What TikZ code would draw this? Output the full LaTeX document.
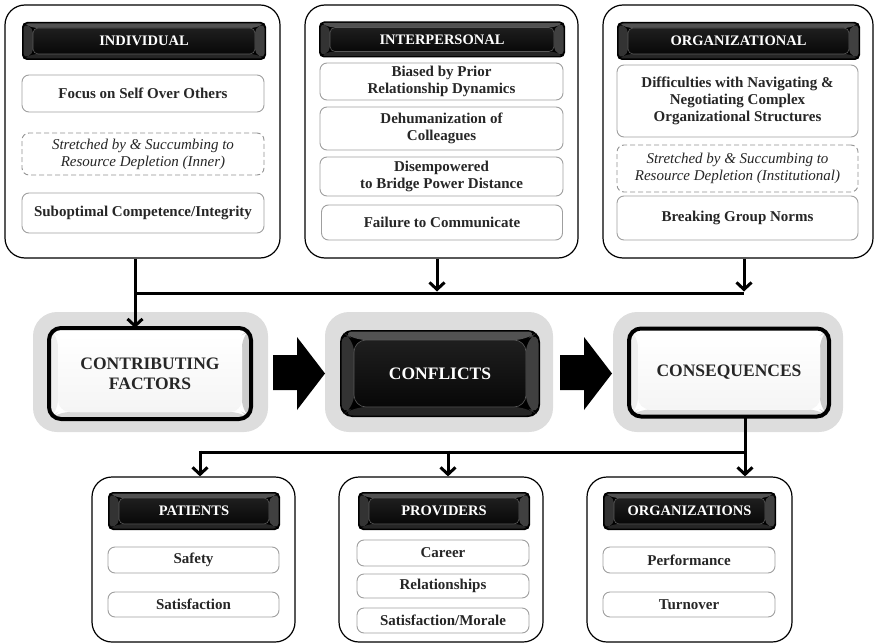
\documentclass[tikz,border=0pt]{standalone}
\usepackage{fontspec}
\setmainfont{Liberation Serif}
\usetikzlibrary{arrows.meta}
\begin{document}
\tikzset{
  outerbox/.style={draw=black, line width=1.2pt, rounded corners=20pt, fill=white},
  itembox/.style={draw=gray!75, line width=0.9pt, rounded corners=7pt, fill=white,
    font=\fontsize{15}{17}\selectfont\bfseries, align=center, text=black!85, inner sep=0pt},
  ditembox/.style={itembox, draw=gray!85, dash pattern=on 5pt off 3pt,
    font=\fontsize{15}{17}\selectfont\itshape},
  darkbevel/.style 2 args={path picture={
    \fill[black!68] ([shift={(1.5pt,-1.5pt)}]path picture bounding box.north west) -- ([shift={(-1.5pt,-1.5pt)}]path picture bounding box.north east) -- ([shift={(-#1,-#2)}]path picture bounding box.north east) -- ([shift={(#1,-#2)}]path picture bounding box.north west) -- cycle;
    \fill[black!85] ([shift={(1.5pt,1.5pt)}]path picture bounding box.south west) -- ([shift={(-1.5pt,1.5pt)}]path picture bounding box.south east) -- ([shift={(-#1,#2)}]path picture bounding box.south east) -- ([shift={(#1,#2)}]path picture bounding box.south west) -- cycle;
    \fill[black!80] ([shift={(1.5pt,-1.5pt)}]path picture bounding box.north west) -- ([shift={(#1,-#2)}]path picture bounding box.north west) -- ([shift={(#1,#2)}]path picture bounding box.south west) -- ([shift={(1.5pt,1.5pt)}]path picture bounding box.south west) -- cycle;
    \fill[black!75] ([shift={(-1.5pt,-1.5pt)}]path picture bounding box.north east) -- ([shift={(-#1,-#2)}]path picture bounding box.north east) -- ([shift={(-#1,#2)}]path picture bounding box.south east) -- ([shift={(-1.5pt,1.5pt)}]path picture bounding box.south east) -- cycle;
    \fill[top color=black!88, bottom color=black!97, draw=black!65, line width=0.6pt] ([shift={(#1,-#2)}]path picture bounding box.north west) rectangle ([shift={(-#1,#2)}]path picture bounding box.south east);
  }},
  lightbevel/.style 2 args={path picture={
    \fill[white] (path picture bounding box.north west) -- (path picture bounding box.north east) -- ([shift={(-#1,-#2)}]path picture bounding box.north east) -- ([shift={(#1,-#2)}]path picture bounding box.north west) -- cycle;
    \fill[gray!30] (path picture bounding box.south west) -- (path picture bounding box.south east) -- ([shift={(-#1,#2)}]path picture bounding box.south east) -- ([shift={(#1,#2)}]path picture bounding box.south west) -- cycle;
    \fill[gray!12] (path picture bounding box.north west) -- ([shift={(#1,-#2)}]path picture bounding box.north west) -- ([shift={(#1,#2)}]path picture bounding box.south west) -- (path picture bounding box.south west) -- cycle;
    \fill[gray!40] (path picture bounding box.north east) -- ([shift={(-#1,-#2)}]path picture bounding box.north east) -- ([shift={(-#1,#2)}]path picture bounding box.south east) -- (path picture bounding box.south east) -- cycle;
    \fill[top color=white, bottom color=gray!8] ([shift={(#1,-#2)}]path picture bounding box.north west) rectangle ([shift={(-#1,#2)}]path picture bounding box.south east);
  }},
  hdr/.style={fill=black, rounded corners=5pt, text=white, inner sep=0pt,
    font=\fontsize{14.5}{16}\selectfont\bfseries, darkbevel={11pt}{6pt}},
  halo/.style={fill=gray!27, rounded corners=24pt, inner sep=0pt},
  whitebig/.style={draw=black, line width=4pt, fill=white, rounded corners=12pt, inner sep=0pt,
    align=center, font=\fontsize{17.5}{20}\selectfont\bfseries, text=black!85, lightbevel={9pt}{7pt}},
  blackbig/.style={fill=black, rounded corners=12pt, inner sep=0pt, text=white,
    font=\fontsize{17.5}{20}\selectfont\bfseries, darkbevel={14pt}{10pt}},
  conn/.style={line width=3pt, black},
  arr/.style={conn, -{Straight Barb[length=7pt,width=15pt]}},
}
\begin{tikzpicture}[x=1pt,y=-1pt]
\useasboundingbox (0,0) rectangle (877,644);

% ---------- top outer boxes ----------
\node[outerbox, minimum width=275, minimum height=253] (ind) at (142.5,131.5) {};
\node[outerbox, minimum width=273, minimum height=253] (inter) at (441.5,131.5) {};
\node[outerbox, minimum width=270, minimum height=253] (org) at (738,131.5) {};

\node[hdr, minimum width=244, minimum height=38] (indh) at (144,41) {INDIVIDUAL};
\node[hdr, minimum width=246, minimum height=36] (interh) at (442,39.5) {INTERPERSONAL};
\node[hdr, minimum width=243, minimum height=38] (orgh) at (738.5,41) {ORGANIZATIONAL};

\node[itembox, minimum width=242, minimum height=37] (i1) at (143,93.5) {Focus on Self Over Others};
\node[ditembox, minimum width=242, minimum height=42] (i2) at (143,154) {Stretched by \& Succumbing to\\Resource Depletion (Inner)};
\node[itembox, minimum width=242, minimum height=40] (i3) at (143,213) {Suboptimal Competence/Integrity};

\node[itembox, minimum width=243, minimum height=37] (p1) at (441.5,81.5) {Biased by Prior\\Relationship Dynamics};
\node[itembox, minimum width=243, minimum height=43] (p2) at (441.5,128.5) {Dehumanization of\\Colleagues};
\node[itembox, minimum width=243, minimum height=39] (p3) at (441.5,176.5) {Disempowered\\to Bridge Power Distance};
\node[itembox, minimum width=241, minimum height=35] (p4) at (442,222.5) {Failure to Communicate};

\node[itembox, minimum width=241, minimum height=72] (o1) at (737.5,101) {Difficulties with Navigating \&\\Negotiating Complex\\Organizational Structures};
\node[ditembox, minimum width=241, minimum height=47] (o2) at (737.5,168.5) {Stretched by \& Succumbing to\\Resource Depletion (Institutional)};
\node[itembox, minimum width=241, minimum height=44] (o3) at (737.5,218) {Breaking Group Norms};

% ---------- middle row ----------
\node[halo, minimum width=235, minimum height=120] (h1) at (150.5,372) {};
\node[halo, minimum width=228, minimum height=120] (h2) at (439,372) {};
\node[halo, minimum width=230, minimum height=120] (h3) at (728,372) {};

\node[whitebig, minimum width=202, minimum height=91] (contrib) at (150,373.5) {CONTRIBUTING\\FACTORS};
\node[blackbig, minimum width=200, minimum height=87] (confl) at (440,373.5) {CONFLICTS};
\node[whitebig, minimum width=200, minimum height=88] (conseq) at (729,372.5) {CONSEQUENCES};

\fill[black] (273,355) -- (297,355) -- (297,337) -- (325,373.5) -- (297,410) -- (297,390) -- (273,390) -- cycle;
\fill[black] (560,355) -- (584,355) -- (584,337) -- (612,373.5) -- (584,410) -- (584,390) -- (560,390) -- cycle;

% ---------- top connectors ----------
\coordinate (j1) at (135,293);
\coordinate (j2) at (437,293);
\coordinate (j3) at (744,293);
\draw[conn] (j1) -- (j3);
\draw[conn] (ind.south -| j1) -- (j1);
\draw[arr] (j1) -- ([yshift=-2pt]contrib.north -| j1);
\draw[arr] (inter.south -| j2) -- ([yshift=1.5pt]j2);
\draw[arr] (org.south -| j3) -- ([yshift=1.5pt]j3);

% ---------- bottom boxes ----------
\node[outerbox, minimum width=203, minimum height=165] (pat) at (193.5,559.5) {};
\node[outerbox, minimum width=204, minimum height=165] (prov) at (441,559.5) {};
\node[outerbox, minimum width=205, minimum height=165] (orgs) at (689.5,559.5) {};

\node[hdr, minimum width=172, minimum height=38] (pach) at (194,511) {PATIENTS};
\node[hdr, minimum width=172, minimum height=38] (provh) at (444,511) {PROVIDERS};
\node[hdr, minimum width=173, minimum height=38] (orgsh) at (689.5,511) {ORGANIZATIONS};

\node[itembox, minimum width=171, minimum height=26] (b1) at (193.5,560) {Safety};
\node[itembox, minimum width=171, minimum height=25] (b2) at (193.5,604.5) {Satisfaction};
\node[itembox, minimum width=172, minimum height=26] (c1) at (443,553) {Career};
\node[itembox, minimum width=172, minimum height=24] (c2) at (443,586) {Relationships};
\node[itembox, minimum width=172, minimum height=25] (c3) at (443,620.5) {Satisfaction/Morale};
\node[itembox, minimum width=172, minimum height=26] (d1) at (689,560) {Performance};
\node[itembox, minimum width=172, minimum height=25] (d2) at (689,604.5) {Turnover};

% ---------- bottom connectors ----------
\coordinate (k0) at (745,452);
\coordinate (k1) at (200,452);
\coordinate (k2) at (448,452);
\draw[conn] ([yshift=2pt]conseq.south -| k0) -- (k0) -- (k1);
\draw[arr] ([yshift=1.5pt]k1) -- (pat.north -| k1);
\draw[arr] ([yshift=1.5pt]k2) -- (prov.north -| k2);
\draw[arr] ([yshift=1.5pt]k0) -- (orgs.north -| k0);
\end{tikzpicture}
\end{document}
